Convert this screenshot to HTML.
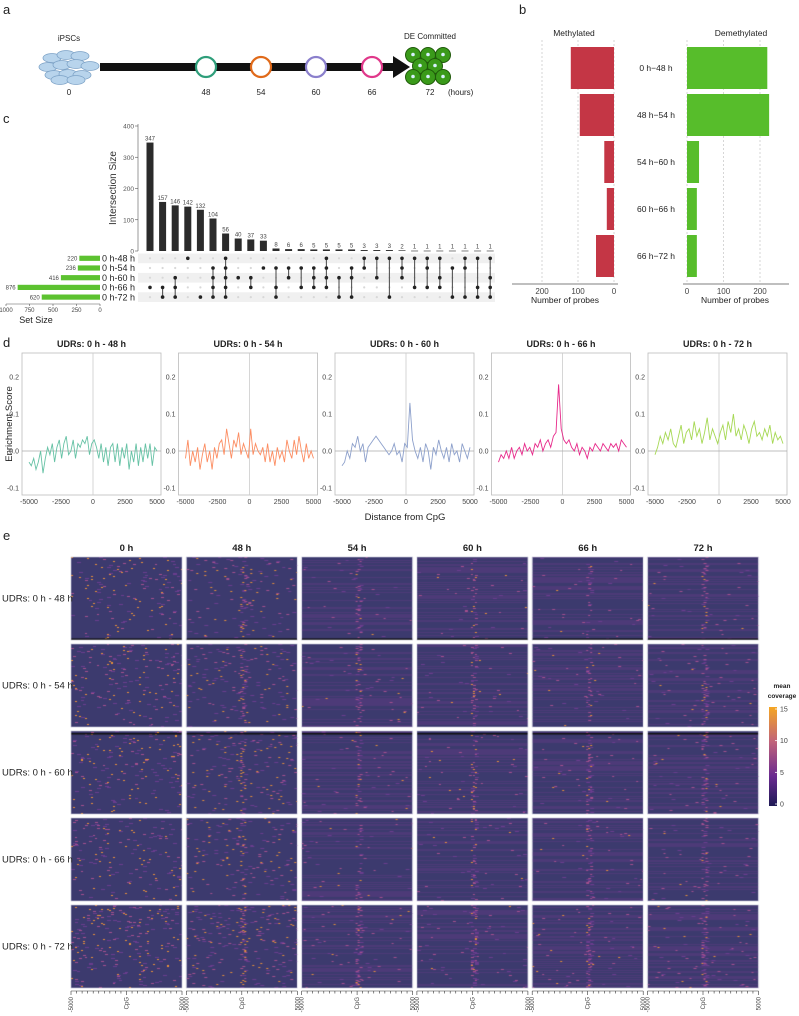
<!DOCTYPE html>
<html><head><meta charset="utf-8">
<style>
html,body{margin:0;padding:0;background:#fff;}
#wrap{position:relative;width:799px;height:1016px;overflow:hidden;font-family:"Liberation Sans",sans-serif;}
canvas,svg{position:absolute;left:0;top:0;}
</style></head>
<body>
<div id="wrap">
<canvas id="hm" width="799" height="1016"></canvas>
<svg id="fig" width="799" height="1016" xmlns="http://www.w3.org/2000/svg" font-family="Liberation Sans, sans-serif"></svg>
</div>
<script>
// ---------- data ----------
const upsetValues=[347,157,146,142,132,104,56,40,37,33,8,6,6,5,5,5,5,3,3,3,2,1,1,1,1,1,1,1];
const upsetSets=[[3],[3,4],[2,3,4],[0],[4],[1,2,3,4],[0,1,2,3,4],[2],[2,3],[1],[1,3,4],[1,2],[1,3],[1,2,3],[0,1,2,3],[2,4],[1,2,4],[0,1],[0,2],[0,4],[0,1,2],[0,3],[0,1,3],[0,2,3],[1,4],[0,1,4],[0,3,4],[0,2,3,4]];
const setNames=["0 h-48 h","0 h-54 h","0 h-60 h","0 h-66 h","0 h-72 h"];
const setSizes=[220,236,416,876,620];
const upsetTicks=[0,100,200,300,400];
const setTicks=[1000,750,500,250,0];
const bCats=["0 h\u221248 h","48 h\u221254 h","54 h\u221260 h","60 h\u221266 h","66 h\u221272 h"];
const methylated=[120,95,27,20,50];
const demethylated=[220,225,33,27,27];
const bTicks=[0,100,200];
const dTitles=["UDRs: 0 h - 48 h","UDRs: 0 h - 54 h","UDRs: 0 h - 60 h","UDRs: 0 h - 66 h","UDRs: 0 h - 72 h"];
const dColors=["#66c2a5","#fc8d62","#8da0cb","#e7298a","#a6d854"];
const d1=[-0.03,-0.04,-0.02,-0.05,-0.03,0.0,-0.06,-0.02,0.01,-0.01,0.02,-0.03,0.01,0.03,-0.02,0.02,0.04,-0.01,0.0,0.03,-0.02,0.02,0.01,0.03,0.02,0.04,-0.01,0.02,0.03,0.01,-0.02,0.02,-0.03,0.01,-0.04,0.01,0.02,-0.03,0.02,-0.04,0.01,-0.02,0.02,-0.05,0.0,-0.03,0.02,-0.04,0.01,-0.03,0.02,-0.02,0.02,-0.04,0.01,0.0];
const d2=[-0.02,0.03,-0.04,0.0,-0.03,0.01,-0.05,-0.01,0.02,-0.03,0.0,-0.05,0.01,-0.02,0.02,0.03,-0.01,0.06,0.02,-0.02,0.03,0.01,0.05,-0.01,0.02,0.0,-0.02,0.06,-0.01,0.02,0.0,-0.01,0.01,-0.03,0.02,-0.03,0.0,-0.04,0.01,-0.02,0.0,-0.03,0.03,0.0,-0.02,0.03,-0.01,0.04,0.0,-0.03,0.02,-0.02,0.0,-0.02];
const d3=[-0.04,-0.03,0.0,-0.02,0.02,0.01,0.04,0.0,0.02,-0.03,0.01,0.02,0.03,0.04,0.03,0.02,0.01,0.0,-0.01,0.0,0.02,-0.01,0.0,-0.03,0.02,0.01,0.13,0.03,0.0,-0.02,0.01,-0.03,0.02,0.0,-0.05,0.01,-0.01,0.03,0.0,-0.02,0.01,-0.03,0.02,-0.01,0.0,-0.03,0.02,0.0,-0.02,0.01];
const d4=[-0.03,-0.01,-0.02,0.0,-0.02,0.01,-0.02,0.0,0.01,-0.01,0.02,0.0,0.01,-0.01,0.02,0.01,0.03,0.0,0.02,0.03,0.01,0.04,0.05,0.18,0.06,0.03,0.02,0.03,0.01,0.0,0.02,-0.01,0.01,0.0,-0.02,0.01,0.0,0.02,0.01,0.0,0.02,0.01,0.0,0.02,0.01,0.02,0.0,0.03,0.02,0.01];
const d5=[-0.01,0.01,0.04,0.02,0.05,0.03,0.06,0.02,0.01,0.04,0.07,0.02,0.05,0.06,0.03,0.08,0.04,0.06,0.02,0.05,0.09,0.03,0.06,0.04,0.02,0.05,0.07,0.03,0.08,0.05,0.1,0.04,0.06,0.03,0.07,0.05,0.02,0.06,0.08,0.04,0.05,0.03,0.06,0.04,0.07,0.02,0.05,0.03,0.04,0.02];
const dSeries=[d1,d2,d3,d4,d5];
const dYTicks=[-0.1,0.0,0.1,0.2];
const dXTicks=[-5000,-2500,0,2500,5000];
const hmCols=["0 h","48 h","54 h","60 h","66 h","72 h"];
const hmRows=["UDRs: 0 h - 48 h","UDRs: 0 h - 54 h","UDRs: 0 h - 60 h","UDRs: 0 h - 66 h","UDRs: 0 h - 72 h"];
const hmSpeckle=[0.10,0.09,0.02,0.018,0.02,0.025];   // speckle density per time column
const hmCenter=[0.0,0.25,0.3,0.3,0.3,0.35];          // center enrichment per time column
const hmRowBoost=[0.8,1.0,1.0,0.9,1.3];
const cbTicks=[0,5,10,15];

// ---------- helpers ----------
const S=document.getElementById('fig');
const NS="http://www.w3.org/2000/svg";
function el(tag,attrs,parent){const e=document.createElementNS(NS,tag);for(const k in attrs)e.setAttribute(k,attrs[k]);(parent||S).appendChild(e);return e;}
function txt(x,y,s,size,attrs,parent){const t=el('text',Object.assign({x:x,y:y,'font-size':size,fill:'#222'},attrs||{}),parent);t.textContent=s;return t;}

// ---------- panel labels ----------
[["a",3,14],["b",519,14],["c",3,123],["d",3,347],["e",3,540]].forEach(p=>{const t=txt(p[1],p[2],p[0],13,{});});

// ---------- panel a ----------
const ga=el('g',{});
[[52,58],[66,55],[80,56],[48,67],[62,65],[76,64],[90,66],[54,75],[68,74],[82,75],[60,80],[76,80]].forEach(c=>{el('ellipse',{cx:c[0],cy:c[1],rx:9,ry:4.5,fill:'#b8d4ec',stroke:'#7fa4c8','stroke-width':0.8},ga);});
txt(69,41,"iPSCs",8,{'text-anchor':'middle'},ga);
el('rect',{x:100,y:63,width:295,height:8,fill:'#111'},ga);
el('polygon',{points:'393,56 410,67 393,78',fill:'#111'},ga);
const circX=[206,261,316,372],circC=["#2e9e7a","#e06a1a","#8a7fcc","#e0388a"],circL=["48","54","60","66"];
circX.forEach((x,i)=>{const c=el('circle',{cx:x,cy:67,r:10,fill:'#fff',stroke:circC[i],'stroke-width':2.2},ga);txt(x,95,circL[i],8,{'text-anchor':'middle'},ga);});
txt(69,95,"0",8,{'text-anchor':'middle'},ga);
txt(430,95,"72",8,{'text-anchor':'middle'},ga);
txt(448,95,"(hours)",8,{},ga);
txt(430,39,"DE Committed",8,{'text-anchor':'middle'},ga);
[[413,55],[428,55],[443,55],[420,66],[435,66],[413,77],[428,77],[443,77]].forEach(c=>{el('circle',{cx:c[0],cy:c[1],r:7.5,fill:'#3a9a1a',stroke:'#1f5a0a','stroke-width':1},ga);el('circle',{cx:c[0],cy:c[1]-0.5,r:1.8,fill:'#d8f0ff'},ga);});

// ---------- panel c (upset) ----------
const gc=el('g',{});
const uY0=251,uScale=125/400,uX=i=>150+i*12.6,rowY=r=>258.3+r*9.7;
el('line',{x1:138,y1:124,x2:138,y2:uY0,stroke:'#555','stroke-width':0.6},gc);
upsetTicks.forEach(v=>{const y=uY0-v*uScale;el('line',{x1:135,y1:y,x2:138,y2:y,stroke:'#555','stroke-width':0.6},gc);txt(134,y+2.5,String(v),6.5,{'text-anchor':'end',fill:'#555'},gc);});
const yl=txt(0,0,"Intersection Size",10,{'text-anchor':'middle',transform:'translate(116,188) rotate(-90)',fill:'#333'},gc);

for(let r=0;r<5;r+=2){el('rect',{x:138,y:rowY(r)-4.8,width:357,height:9.7,fill:'#f0f0f0'},gc);}
upsetValues.forEach((v,i)=>{
  const x=uX(i),h=v*uScale;
  const b=el('rect',{x:x-3.5,y:uY0-h,width:7,height:Math.max(h,0.6),fill:'#2b2b2b'},gc);
  
  txt(x,uY0-h-2,String(v),6,{'text-anchor':'middle',fill:'#444'},gc);
  const s=upsetSets[i];
  for(let r=0;r<5;r++){if(!s.includes(r))el('circle',{cx:x,cy:rowY(r),r:1.1,fill:'#d8d8d8'},gc);}
  if(s.length>1)el('line',{x1:x,y1:rowY(Math.min(...s)),x2:x,y2:rowY(Math.max(...s)),stroke:'#555','stroke-width':1.1},gc);
  s.forEach(r=>el('circle',{cx:x,cy:rowY(r),r:1.8,fill:'#222'},gc));
});
const sScale=0.094;
setNames.forEach((n,r)=>{
  const y=rowY(r),w=setSizes[r]*sScale;
  const b=el('rect',{x:100-w,y:y-2.6,width:w,height:5.2,fill:'#5cc230'},gc);
  
  txt(100-w-2,y+2.2,String(setSizes[r]),6,{'text-anchor':'end',fill:'#444'},gc);
  txt(102,y+3.2,n,9,{fill:'#222'},gc);
});
el('line',{x1:6,y1:304,x2:100,y2:304,stroke:'#555','stroke-width':0.6},gc);
setTicks.forEach(v=>{const x=100-v*sScale;el('line',{x1:x,y1:304,x2:x,y2:306,stroke:'#555','stroke-width':0.6},gc);txt(x,312,String(v),6,{'text-anchor':'middle',fill:'#444'},gc);});
txt(36,323,"Set Size",9,{'text-anchor':'middle',fill:'#222'},gc);

// ---------- panel b ----------
const gb=el('g',{});
const bRowY=i=>47+i*47,bH=42;
const lZero=614,lScale=72/200,rZero=687,rScale=73/200;
bTicks.forEach(v=>{el('line',{x1:lZero-v*lScale,y1:40,x2:lZero-v*lScale,y2:284,stroke:'#bbb','stroke-dasharray':'2,2','stroke-width':0.6},gb);el('line',{x1:rZero+v*rScale,y1:40,x2:rZero+v*rScale,y2:284,stroke:'#bbb','stroke-dasharray':'2,2','stroke-width':0.6},gb);});
txt(574,36,"Methylated",8.5,{'text-anchor':'middle'},gb);
txt(741,36,"Demethylated",8.5,{'text-anchor':'middle'},gb);
bCats.forEach((c,i)=>{
  const y=bRowY(i);
  const m=el('rect',{x:lZero-methylated[i]*lScale,y:y,width:methylated[i]*lScale,height:bH,fill:'#c43645'},gb);
  
  const d=el('rect',{x:rZero,y:y,width:demethylated[i]*rScale,height:bH,fill:'#57bd2b'},gb);
  
  txt(656,y+bH/2+3,c,8.5,{'text-anchor':'middle'},gb);
});
el('line',{x1:512,y1:284,x2:618,y2:284,stroke:'#555','stroke-width':0.8},gb);
el('line',{x1:683,y1:284,x2:789,y2:284,stroke:'#555','stroke-width':0.8},gb);
bTicks.forEach(v=>{txt(lZero-v*lScale,294,String(v),8,{'text-anchor':'middle',fill:'#444'},gb);txt(rZero+v*rScale,294,String(v),8,{'text-anchor':'middle',fill:'#444'},gb);});
txt(565,303,"Number of probes",8.5,{'text-anchor':'middle'},gb);
txt(735,303,"Number of probes",8.5,{'text-anchor':'middle'},gb);

// ---------- panel d ----------
const dLefts=[22,178.5,335,491.5,648],dTop=353,dBot=495,dW=139;
dSeries.forEach((ser,p)=>{
  const g=el('g',{});
  const L=dLefts[p];
  const xs=v=>L+7+(v+5000)/10000*128, ys=v=>451-v*370;
  el('rect',{x:L,y:dTop,width:dW,height:dBot-dTop,fill:'#fff',stroke:'#bbb','stroke-width':0.8},g);
  el('line',{x1:xs(0),y1:dTop,x2:xs(0),y2:dBot,stroke:'#ccc','stroke-width':0.8},g);
  el('line',{x1:L,y1:ys(0),x2:L+dW,y2:ys(0),stroke:'#aaa','stroke-width':0.8},g);
  dYTicks.forEach(v=>{txt(L-3,ys(v)+2.5,v.toFixed(1),7,{'text-anchor':'end',fill:'#444'},g);});
  dXTicks.forEach(v=>{txt(xs(v),dBot+9,String(v),7,{'text-anchor':'middle',fill:'#444'},g);});
  const n=ser.length;
  const pts=ser.map((v,i)=>xs(-5000+i*10000/(n-1)).toFixed(1)+','+ys(v).toFixed(1)).join(' ');
  const pl=el('polyline',{points:pts,fill:'none',stroke:dColors[p],'stroke-width':0.9},g);
  
  txt(L+dW/2,347,dTitles[p],9,{'text-anchor':'middle','font-weight':'bold'},g);
});
const et=txt(0,0,"Enrichment Score",9.5,{'text-anchor':'middle',transform:'translate(12,424) rotate(-90)'});

const dx=txt(405,520,"Distance from CpG",9.5,{'text-anchor':'middle'});


// ---------- panel e heatmaps ----------
const cv=document.getElementById('hm'),ctx=cv.getContext('2d');
const hX=c=>71+c*115.3,hY=r=>557+r*87,hW=111,hH=83;
function hash(a,b,c){let h=(a*374761393+b*668265263+c*2147483647)>>>0;h=(h^(h>>>13))*1274126177>>>0;return ((h^(h>>>16))>>>0)/4294967296;}
const ge=el('g',{});
hmRows.forEach((rn,r)=>{
  hmCols.forEach((cn,c)=>{
    const x0=hX(c),y0=hY(r);
    ctx.save();ctx.beginPath();ctx.rect(x0,y0,hW,hH);ctx.clip();
    ctx.fillStyle='#3c3a6e';ctx.fillRect(x0,y0,hW,hH);
    const dens=hmSpeckle[c]*hmRowBoost[r],cen=hmCenter[c]*hmRowBoost[r];
    for(let yy=0;yy<hH;yy++){
      if(c>=2){const hs=hash(c+r*11,yy,7);if(hs<0.35){ctx.fillStyle='rgba(110,60,140,0.35)';ctx.fillRect(x0,y0+yy,hW,1);}}
      for(let xx=0;xx<hW;xx+=2){
        const dc=Math.abs(xx-hW/2);
        let p=dens*(c<2?(1-0.5*yy/hH):1)+(dc<3?cen:0);
        const h=hash(r*7+c,yy,xx);
        if(h<p*0.5){
          const h2=hash(c,xx,yy+r*100);
          const warm=c<2?0.3:0.12;
          ctx.fillStyle=h2<warm?'#e9913a':(h2<0.6?'#a4508e':'#6a3d8e');
          ctx.fillRect(x0+xx,y0+yy,2+Math.floor(h2*3),1);
        }
      }
    }
    if(r===0){ctx.fillStyle='#111';ctx.fillRect(x0,y0+hH-1.5,hW,1.5);}
    if(r===2){ctx.fillStyle='#111';ctx.fillRect(x0,y0+2,hW,1.5);}
    ctx.restore();
    const rr=el('rect',{x:x0,y:y0,width:hW,height:hH,fill:'none',stroke:'#cfcfe0','stroke-width':0.5},ge);
    
  });
  txt(2,hY(r)+hH/2+3,rn,9.5,{},ge);
});
hmCols.forEach((cn,c)=>{txt(hX(c)+hW/2,551,cn,9.5,{'text-anchor':'middle','font-weight':'bold'},ge);
  const x0=hX(c);
  el('line',{x1:x0,y1:991,x2:x0+hW,y2:991,stroke:'#333','stroke-width':0.6},ge);
  for(let k=0;k<=20;k++){const x=x0+k*hW/20;el('line',{x1:x,y1:991,x2:x,y2:(k%10===0)?995:993.5,stroke:'#333','stroke-width':0.6},ge);}
  [["-5000",x0],["CpG",x0+hW/2],["5000",x0+hW]].forEach(l=>{txt(0,0,l[0],6,{'text-anchor':'end',fill:'#444',transform:'translate('+(l[1]+2)+',997) rotate(-90)'},ge);});
});
// colorbar
const grad=el('linearGradient',{id:'cb',x1:0,y1:0,x2:0,y2:1},el('defs',{}));
[["0","#f5a623"],["0.35","#c0637a"],["0.7","#6a2a90"],["1","#1e1a55"]].forEach(s=>el('stop',{offset:s[0],'stop-color':s[1]},grad));
const cbTop=707,cbBot=806,cbScale=(cbBot-cbTop-4)/15;
const cb=el('rect',{x:769,y:cbTop,width:8,height:cbBot-cbTop,fill:'url(#cb)'});

cbTicks.forEach(v=>{const y=cbBot-2-v*cbScale;el('line',{x1:775,y1:y,x2:777,y2:y,stroke:'#fff','stroke-width':0.8});txt(780,y+2.5,String(v),7,{fill:'#444'});});
txt(782,688,"mean",6.5,{'text-anchor':'middle','font-weight':'bold'});
txt(782,698,"coverage",6.5,{'text-anchor':'middle','font-weight':'bold'});
</script>
</body></html>
